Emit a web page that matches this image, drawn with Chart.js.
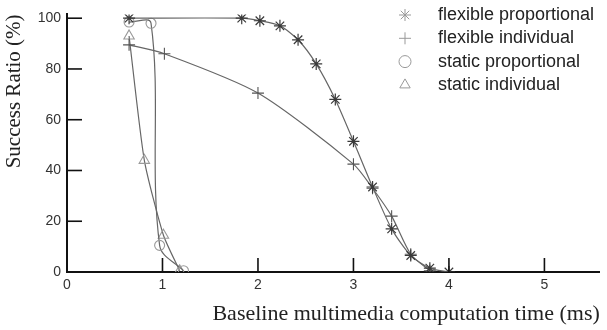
<!DOCTYPE html>
<html>
<head>
<meta charset="utf-8">
<script src="https://cdn.jsdelivr.net/npm/chart.js@4"></script>
<style>
  html, body { margin: 0; padding: 0; background: #fff; }
  #wrap { width: 607px; height: 330px; }
</style>
</head>
<body>
<div id="wrap"><canvas id="chart" width="607" height="330"></canvas></div>
<script>
// x tick labels and y tick labels
const xTicks = [0, 1, 2, 3, 4, 5];
const yTicks = [0, 20, 40, 60, 80, 100];

// series names
const seriesNames = ['flexible proportional', 'flexible individual', 'static proportional', 'static individual'];

// flexible proportional (asterisk)
const flexPropX = [0.65, 1.83, 2.02, 2.23, 2.42, 2.61, 2.81, 3.0, 3.2, 3.4, 3.6, 3.8, 4.0];
const flexPropY = [100, 100, 99, 97, 91.5, 82, 68, 51.5, 33.5, 17, 6.5, 1.5, 0];

// flexible individual (plus)
const flexIndX = [0.65, 1.02, 2.0, 3.0, 3.2, 3.4, 3.6, 3.8];
const flexIndY = [89.5, 86, 70.5, 42.5, 33, 22, 7, 0.5];

// static proportional (circle)
const statPropX = [0.65, 0.88, 0.97, 1.22];
const statPropY = [98.5, 98, 10.5, 0.5];

// static individual (triangle)
const statIndX = [0.65, 0.81, 1.01, 1.18];
const statIndY = [93, 44, 14.5, 0.5];

function toPoints(xs, ys) {
    return xs.map((x, i) => ({ x: x, y: ys[i] }));
}

const markerStyles = [
    { pointStyle: 'star', radius: 6, color: '#3a3a3a', width: 1.2 },
    { pointStyle: 'cross', radius: 6, color: '#555', width: 1.1 },
    { pointStyle: 'circle', radius: 5, color: '#999', width: 1.1 },
    { pointStyle: 'triangle', radius: 6, color: '#999', width: 1.1 }
];

function makeDataset(i, xs, ys, tension) {
    const m = markerStyles[i];
    return {
        label: seriesNames[i],
        data: toPoints(xs, ys),
        borderColor: '#666',
        borderWidth: 1.2,
        tension: tension,
        pointStyle: m.pointStyle,
        pointRadius: m.radius,
        pointBorderColor: m.color,
        pointBorderWidth: m.width,
        pointBackgroundColor: 'rgba(0,0,0,0)',
        fill: false
    };
}

// tick marks pointing into the plot, plus the legend inside the plot
const extras = {
    id: 'extras',
    afterDraw(chart) {
        const ctx = chart.ctx;
        const xs = chart.scales.x, ys = chart.scales.y;
        const left = xs.getPixelForValue(0);
        const bottom = ys.getPixelForValue(0);

        ctx.save();
        ctx.fillStyle = '#111';
        xTicks.forEach(v => {
            if (v === 0) return;
            const p = xs.getPixelForValue(v);
            ctx.fillRect(p - 0.8, bottom - 14, 1.6, 14);
        });
        yTicks.forEach(v => {
            if (v === 0) return;
            const p = ys.getPixelForValue(v);
            ctx.fillRect(left, p - 0.8, 15, 1.6);
        });
        ctx.restore();

        ctx.save();
        ctx.font = '18px "Liberation Sans", Arial, sans-serif';
        ctx.textBaseline = 'middle';
        seriesNames.forEach((name, i) => {
            const m = markerStyles[i];
            const y = 15 + i * 23.3;
            ctx.strokeStyle = '#999';
            ctx.fillStyle = 'rgba(0,0,0,0)';
            ctx.lineWidth = 1;
            Chart.helpers.drawPoint(ctx, {
                pointStyle: m.pointStyle, radius: 6, rotation: 0, borderWidth: 1
            }, 405, y);
            ctx.fillStyle = '#222';
            ctx.fillText(name, 438, y);
        });
        ctx.restore();
    }
};

new Chart(document.getElementById('chart'), {
    type: 'line',
    data: {
        datasets: [
            makeDataset(0, flexPropX, flexPropY, 0.25),
            makeDataset(1, flexIndX, flexIndY, 0.25),
            makeDataset(2, statPropX, statPropY, 0.35),
            makeDataset(3, statIndX, statIndY, 0.2)
        ]
    },
    options: {
        responsive: false,
        animation: false,
        layout: { padding: { top: 12, right: 2, left: 0, bottom: 0 } },
        plugins: {
            legend: { display: false },
            tooltip: { enabled: false }
        },
        scales: {
            x: {
                type: 'linear',
                min: 0,
                max: 5.58,
                afterBuildTicks: s => { s.ticks = xTicks.map(v => ({ value: v })); },
                afterFit: s => { s.height = 58; },
                border: { color: '#111', width: 2 },
                grid: { drawOnChartArea: false, drawTicks: false },
                ticks: {
                    padding: 5,
                    color: '#333',
                    font: { family: '"Liberation Sans", Arial, sans-serif', size: 14 }
                },
                title: {
                    display: true,
                    align: 'end',
                    text: 'Baseline multimedia computation time (ms)',
                    color: '#222',
                    padding: { top: 0, bottom: 3 },
                    font: { family: '"Liberation Serif", "Times New Roman", serif', size: 22 }
                }
            },
            y: {
                type: 'linear',
                min: 0,
                max: 101.5,
                afterBuildTicks: s => { s.ticks = yTicks.map(v => ({ value: v })); },
                afterFit: s => { s.width = 67; },
                border: { color: '#111', width: 2 },
                grid: { drawOnChartArea: false, drawTicks: false },
                ticks: {
                    padding: 6,
                    color: '#333',
                    font: { family: '"Liberation Sans", Arial, sans-serif', size: 14 }
                },
                title: {
                    display: true,
                    align: 'end',
                    text: 'Success Ratio (%)',
                    color: '#222',
                    padding: { top: 2, bottom: 0 },
                    font: { family: '"Liberation Serif", "Times New Roman", serif', size: 21 }
                }
            }
        }
    },
    plugins: [extras]
});
</script>
</body>
</html>
